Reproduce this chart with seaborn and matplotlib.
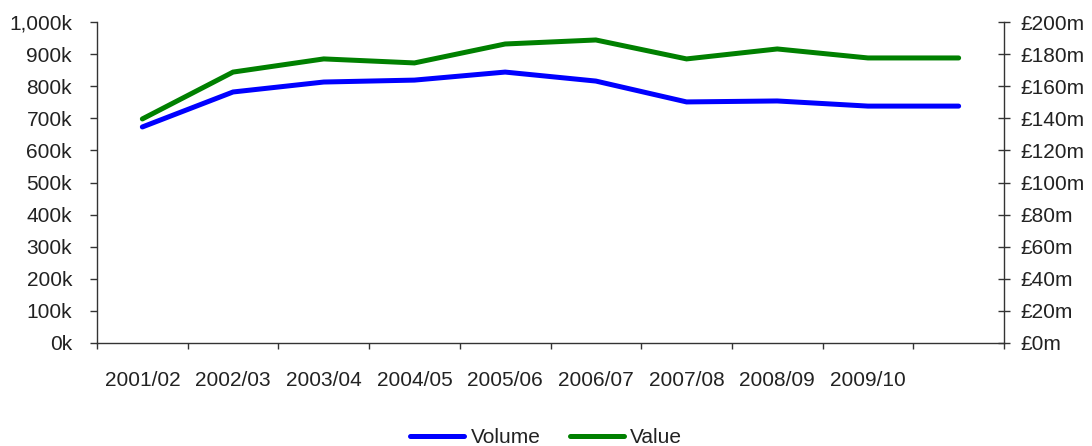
import matplotlib
matplotlib.use("Agg")
import matplotlib.pyplot as plt
import seaborn as sns
import numpy as np
import pandas as pd
from matplotlib.ticker import FuncFormatter, FixedLocator, MultipleLocator

years = ["2001/02", "2002/03", "2003/04", "2004/05", "2005/06",
         "2006/07", "2007/08", "2008/09", "2009/10", ""]
volume = [673, 782, 813, 819, 844, 816, 751, 754, 738, 738]          # thousands
value = [139.6, 168.8, 177.0, 174.5, 186.3, 188.8, 177.0, 183.2, 177.6, 177.6]  # £m

sns.set_theme(style="white")
plt.rcParams['font.family'] = ['Liberation Sans', 'DejaVu Sans']
fs = 15
plt.rcParams['font.size'] = fs
text_col = "#222222"
axis_col = "#333333"

df = pd.DataFrame({"pos": np.arange(len(years)), "Volume": volume, "Value": value})

fig = plt.figure(figsize=(10.92, 4.46), dpi=100)
ax = fig.add_axes([97/1092, 1-343/446, (1004-97)/1092, (343-22)/446])
ax2 = ax.twinx()

sns.lineplot(data=df, x="pos", y="Volume", ax=ax, color="#0000FF", lw=3.6,
             label="Volume", legend=False, solid_joinstyle="miter")
sns.lineplot(data=df, x="pos", y="Value", ax=ax2, color="#008000", lw=3.6,
             label="Value", legend=False, solid_joinstyle="miter")

n = len(years)
ax.set_xlim(-0.5, n - 0.5)
ax.set_ylim(0, 1000)
ax2.set_ylim(0, 200)

ax.yaxis.set_major_locator(MultipleLocator(100))
ax.yaxis.set_major_formatter(FuncFormatter(lambda v, p: f"{int(v):,}k"))
ax2.yaxis.set_major_locator(MultipleLocator(20))
ax2.yaxis.set_major_formatter(FuncFormatter(lambda v, p: f"£{int(v)}m"))

ax.xaxis.set_major_locator(FixedLocator(np.arange(n + 1) - 0.5))
ax.xaxis.set_major_formatter(FuncFormatter(lambda v, p: ""))
ax.xaxis.set_minor_locator(FixedLocator(np.arange(n)))
ax.set_xticklabels(years, minor=True)

ax.set_xlabel("")
ax.set_ylabel("")
ax2.set_ylabel("")

for a in (ax, ax2):
    a.spines["top"].set_visible(False)
    for s in a.spines.values():
        s.set_color(axis_col)
        s.set_linewidth(1.0)
    a.grid(False)
ax.spines["right"].set_visible(False)
ax2.spines["left"].set_visible(False)
ax2.spines["bottom"].set_visible(False)

ax.tick_params(axis="y", which="major", direction="out", length=5, width=1,
               color=axis_col, pad=13, labelcolor=text_col, labelsize=fs, left=True)
ax2.tick_params(axis="y", which="major", direction="inout", length=9, width=1,
                color=axis_col, pad=7, labelcolor=text_col, labelsize=fs, right=True)
ax.tick_params(axis="x", which="major", direction="out", length=4.5, width=1,
               color=axis_col, bottom=True)
ax.tick_params(axis="x", which="minor", length=0, pad=20, labelcolor=text_col,
               labelsize=fs, bottom=True)

h1, l1 = ax.get_legend_handles_labels()
h2, l2 = ax2.get_legend_handles_labels()
fig.legend(h1 + h2, l1 + l2, loc="lower center", bbox_to_anchor=(0.5, -0.012), ncol=2,
           frameon=False, fontsize=fs, handlelength=2.6, columnspacing=1.4,
           handletextpad=0.3, labelcolor=text_col, borderaxespad=0.0, borderpad=0.2)

fig.savefig("out.png", dpi=100)
